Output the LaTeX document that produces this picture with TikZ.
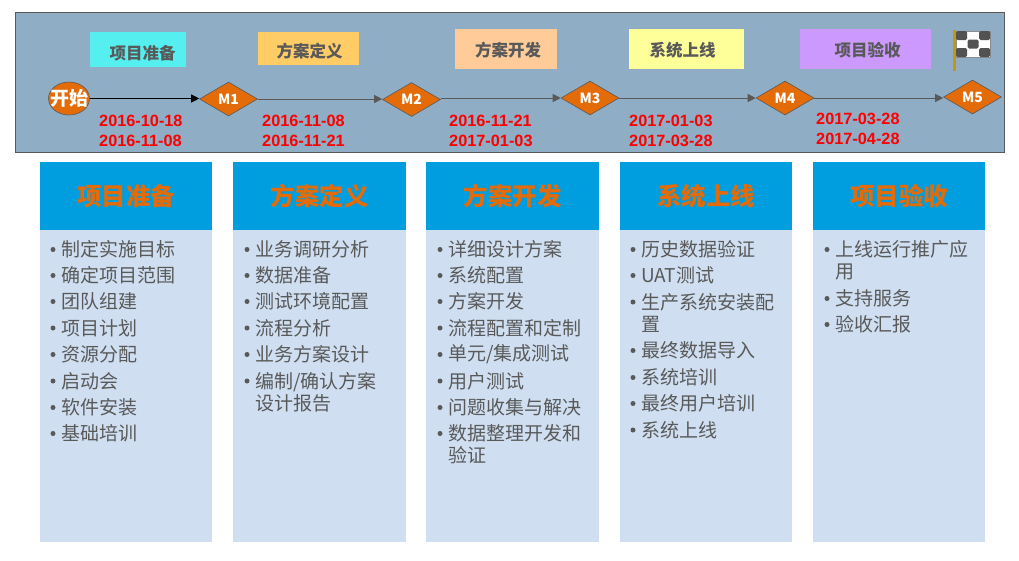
\documentclass[tikz,border=0pt]{standalone}
\usepackage{fontspec}
\setmainfont{Noto Sans CJK SC}
\newfontfamily\datefont{Liberation Sans}
\usetikzlibrary{shapes.geometric,arrows.meta}
\definecolor{bannerc}{HTML}{8FADC5}
\definecolor{edgec}{HTML}{595959}
\definecolor{orangec}{HTML}{E36C09}
\definecolor{headc}{HTML}{009DDF}
\definecolor{bodyc}{HTML}{CFDFF1}
\definecolor{pa}{HTML}{55EFEF}
\definecolor{pb}{HTML}{FFCC66}
\definecolor{pc}{HTML}{FFCC99}
\definecolor{pd}{HTML}{FFFF99}
\definecolor{pe}{HTML}{CC99FF}
\definecolor{polec}{HTML}{C8960C}
\tikzset{
  banner/.style={draw=edgec,line width=0.8pt,fill=bannerc,minimum width=989.5pt,minimum height=140.5pt,inner sep=0pt},
  phase/.style={inner sep=0pt,font=\fontsize{16.5}{16.5}\selectfont\bfseries,text=edgec},
  startnode/.style={ellipse,draw=edgec,line width=0.6pt,fill=orangec,minimum width=41pt,minimum height=33pt,inner sep=0pt,font=\fontsize{19}{19}\selectfont\bfseries,text=white},
  mile/.style={diamond,draw=edgec,line width=0.6pt,fill=orangec,minimum width=58pt,minimum height=34pt,inner sep=0pt,font=\fontsize{14}{14}\selectfont\bfseries,text=white},
  datenode/.style={anchor=west,inner sep=0pt,text=red,font=\datefont\fontsize{16.3}{16.3}\selectfont\bfseries},
  link/.style={draw=edgec,line width=0.9pt,-{Triangle[length=8pt,width=8pt]}},
  head/.style={fill=headc,minimum height=68pt,inner sep=0pt,text=orangec,font=\fontsize{24.5}{24.5}\selectfont\bfseries},
  bodybox/.style={fill=bodyc,minimum height=312pt,inner sep=0pt},
  itemtext/.style={anchor=west,inner sep=0pt,text=edgec,align=left,font=\fontsize{19}{22}\selectfont},
  bullet/.style={circle,fill=edgec,minimum size=5pt,inner sep=0pt},
}
% name, x1, y1, x2, y2, colour, text centre x, text centre y, text
\newcommand{\phasebox}[9]{%
  \fill[#6] (#2,-#3) rectangle (#4,-#5);
  \path (#7,-#8) node[phase] (#1) {#9};}
\newcommand{\itm}[4]{% name, x of bullet, y, text
  \path (#2,-#3) node[bullet] (#1d) {};
  \path ({#2+8},-#3) node[itemtext] (#1) {#4};}
\newcommand{\itmtwo}[4]{% name, x of bullet, y of first line, two-line text
  \path (#2,-#3) node[bullet] (#1d) {};
  \path ({#2+8},{-#3-11}) node[itemtext] (#1) {#4};}
\begin{document}
\begin{tikzpicture}[x=1pt,y=1pt]
\useasboundingbox (0,0) rectangle (1019,-560);
\node[banner,anchor=north west] (bn) at (14.5,-11.5) {};
\phasebox{p1}{90}{32}{186}{67}{pa}{142.5}{53}{项目准备}
\phasebox{p2}{258}{32}{359}{65}{pb}{309.5}{51}{方案定义}
\phasebox{p3}{455}{29}{557}{69}{pc}{508}{50}{方案开发}
\phasebox{p4}{629}{29}{744}{69}{pd}{682.5}{50}{系统上线}
\phasebox{p5}{800}{29}{931}{69}{pe}{867.5}{50.5}{项目验收}
\node[startnode] (st) at (69,-98.5) {\makebox[0pt]{开始}};
\node[mile] (m1) at (228.5,-99) {\makebox[0pt]{M1}};
\node[mile] (m2) at (411.5,-99.5) {\makebox[0pt]{M2}};
\node[mile] (m3) at (590,-98) {\makebox[0pt]{M3}};
\node[mile] (m4) at (785,-98) {\makebox[0pt]{M4}};
\node[mile] (m5) at (972.5,-97) {\makebox[0pt]{M5}};
\draw[link,draw=black] (st.east) -- (st.east -| m1.west);
\draw[link] (m1.east) -- (m1.east -| m2.west);
\draw[link] (m3.west -| m2.east) -- (m3.west);
\draw[link] (m3.east) -- (m4.west);
\draw[link] (m4.east) -- (m4.east -| m5.west);
\node[datenode] (d1a) at (99,-121) {2016-10-18};
\node[datenode] (d1b) at (99,-141) {2016-11-08};
\node[datenode] (d2a) at (262,-121) {2016-11-08};
\node[datenode] (d2b) at (262,-141) {2016-11-21};
\node[datenode] (d3a) at (449,-121) {2016-11-21};
\node[datenode] (d3b) at (449,-141) {2017-01-03};
\node[datenode] (d4a) at (629,-121) {2017-01-03};
\node[datenode] (d4b) at (629,-141) {2017-03-28};
\node[datenode] (d5a) at (816,-119) {2017-03-28};
\node[datenode] (d5b) at (816,-139) {2017-04-28};
% flag
\fill[polec] (952.5,-30) rectangle (955.5,-71);
\fill[white,draw=black!45,line width=0.5pt] (956,-31) rectangle (990,-57);
\foreach \cx/\cy in {956/31,979/31,967.5/39.5,956/48,979/48}
  \fill[black!68,rounded corners=1.5pt] (\cx,-\cy) rectangle ({\cx+11},{-\cy-9});
% columns
\foreach \n/\xl/\w/\t in {c1/40/172/项目准备,c2/233/173/方案定义,c3/426/173/方案开发,c4/620/172/系统上线,c5/813/172/项目验收}{
  \node[bodybox,minimum width=\w pt,anchor=north west] (\n b) at (\xl,-230) {};
  \node[head,minimum width=\w pt,anchor=north west] (\n h) at (\xl,-162) {\t};
}
\itm{a1}{53}{249.5}{制定实施目标}
\itm{a2}{53}{275.5}{确定项目范围}
\itm{a3}{53}{301.5}{团队组建}
\itm{a4}{53}{328}{项目计划}
\itm{a5}{53}{354.5}{资源分配}
\itm{a6}{53}{381}{启动会}
\itm{a7}{53}{407.5}{软件安装}
\itm{a8}{53}{433.5}{基础培训}
\itm{b1}{247}{249.5}{业务调研分析}
\itm{b2}{247}{275.5}{数据准备}
\itm{b3}{247}{301.5}{测试环境配置}
\itm{b4}{247}{328}{流程分析}
\itm{b5}{247}{354.5}{业务方案设计}
\itmtwo{b6}{247}{381}{编制/确认方案\\设计报告}
\itm{e1}{440}{249.5}{详细设计方案}
\itm{e2}{440}{275.5}{系统配置}
\itm{e3}{440}{301.5}{方案开发}
\itm{e4}{440}{328}{流程配置和定制}
\itm{e5}{440}{354.5}{单元/集成测试}
\itm{e6}{440}{381}{用户测试}
\itm{e7}{440}{407.5}{问题收集与解决}
\itmtwo{e8}{440}{433.5}{数据整理开发和\\验证}
\itm{f1}{633}{249.5}{历史数据验证}
\itm{f2}{633}{275.5}{UAT测试}
\itmtwo{f3}{633}{302}{生产系统安装配\\置}
\itm{f4}{633}{350.5}{最终数据导入}
\itm{f5}{633}{377.5}{系统培训}
\itm{f6}{633}{403.5}{最终用户培训}
\itm{f7}{633}{430}{系统上线}
\itmtwo{g1}{827}{249.5}{上线运行推广应\\用}
\itm{g2}{827}{298.5}{支持服务}
\itm{g3}{827}{324.5}{验收汇报}
\end{tikzpicture}
\end{document}
